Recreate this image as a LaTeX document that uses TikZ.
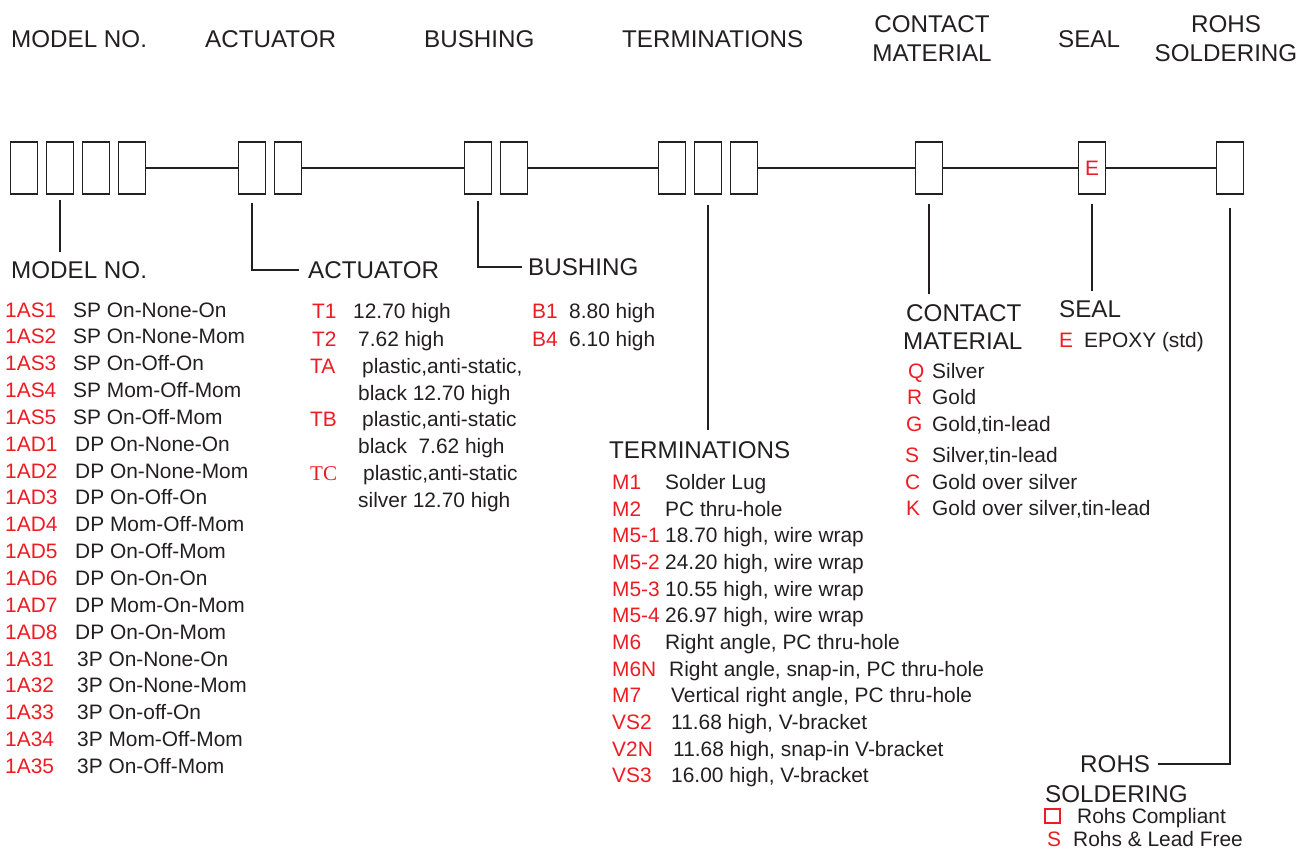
\documentclass[tikz,border=0pt]{standalone}
\usepackage{fontspec}
\setmainfont{Liberation Sans}
\newfontfamily\tcfont{Liberation Serif}
\definecolor{ink}{HTML}{231F20}
\definecolor{codered}{HTML}{ED1C24}
\tikzset{
  cell/.style={draw=ink, line width=1.8pt, minimum width=27pt, minimum height=52pt, inner sep=0pt},
  wire/.style={draw=ink, line width=1.5pt},
  lead/.style={draw=ink, line width=1.6pt},
  hd/.style={anchor=base west, inner sep=0pt, text=ink, font=\fontsize{24.2}{28}\selectfont},
  hdc/.style={hd, anchor=base},
  txt/.style={anchor=base west, inner sep=0pt, text=ink, font=\fontsize{20.9}{24}\selectfont},
  key/.style={txt, text=codered},
}
\begin{document}
\begin{tikzpicture}[x=1pt,y=-1pt]
\useasboundingbox (0,0) rectangle (1309,850);
\pgfmathsetmacro{\by}{168}
\pgfmathsetmacro{\rowh}{26.85}
\pgfmathsetmacro{\trow}{26.65}
% headings
\node[hd] (hmod) at (11,47.5) {MODEL NO.};
\node[hd] (hact) at (205,47.5) {ACTUATOR};
\node[hd] (hbus) at (424,47.5) {BUSHING};
\node[hd] (hterm) at (622,47.5) {TERMINATIONS};
\node[hdc] (hcon1) at (932,32.5) {CONTACT};
\node[hdc] (hcon2) at (932,61.5) {MATERIAL};
\node[hd] (hseal) at (1058,47.5) {SEAL};
\node[hdc] (hrohs1) at (1226,32.5) {ROHS};
\node[hdc] (hrohs2) at (1226,61.5) {SOLDERING};
% code boxes
\foreach \i/\x in {1/24,2/60,3/96,4/132}
  \node[cell] (m\i) at (\x,\by) {};
\foreach \i/\x in {1/252,2/288}
  \node[cell] (a\i) at (\x,\by) {};
\foreach \i/\x in {1/478,2/514}
  \node[cell] (b\i) at (\x,\by) {};
\foreach \i/\x in {1/672,2/708,3/744}
  \node[cell] (t\i) at (\x,\by) {};
\node[cell] (c1) at (929,\by) {};
\node[cell, text=codered, font=\fontsize{20.9}{24}\selectfont] (s1) at (1092,\by) {E};
\node[cell] (r1) at (1230,\by) {};
%
\draw[wire] (m4.east) -- (a1.west);
\draw[wire] (a2.east) -- (b1.west);
\draw[wire] (b2.east) -- (t1.west);
\draw[wire] (t3.east) -- (c1.west);
\draw[wire] (c1.east) -- (s1.west);
\draw[wire] (s1.east) -- (r1.west);
% section labels
\node[hd] (lmod) at (11,278.5) {MODEL NO.};
\node[hd] (lact) at (308,278.5) {ACTUATOR};
\node[hd] (lbus) at (528,275.5) {BUSHING};
\node[hd] (lterm) at (609,458) {TERMINATIONS};
\node[hd] (lcon1) at (906,321) {CONTACT};
\node[hd] (lcon2) at (903,349) {MATERIAL};
\node[hd] (lseal) at (1059,317) {SEAL};
\node[hd] (lrohs1) at (1080,772.5) {ROHS};
\node[hd] (lrohs2) at (1045,802) {SOLDERING};
% leaders
\draw[lead] ([yshift=-5pt]m2.south) -- ([yshift=9pt]m2.south |- lmod.north);
\draw[lead] ([yshift=-8pt]a1.south) |- ([xshift=-9pt]lact.west);
\draw[lead] ([yshift=-6pt]b1.south) |- ([xshift=-6pt]lbus.west);
\draw[lead] ([yshift=-10pt]t2.south) -- ([yshift=11pt]t2.south |- lterm.north);
\draw[lead] ([yshift=-9pt]c1.south) -- ([yshift=10pt]c1.south |- lcon1.north);
\draw[lead] ([yshift=-9pt]s1.south) -- ([yshift=9pt]s1.south |- lseal.north);
\draw[lead] ([yshift=-13pt]r1.south) |- ([xshift=8pt]lrohs1.east);
% model list
\foreach \c/\dx/\d [count=\i from 0] in {
  1AS1/73/SP On-None-On, 1AS2/73/SP On-None-Mom, 1AS3/73/SP On-Off-On,
  1AS4/73/SP Mom-Off-Mom, 1AS5/73/SP On-Off-Mom, 1AD1/75/DP On-None-On,
  1AD2/75/DP On-None-Mom, 1AD3/75/DP On-Off-On, 1AD4/75/DP Mom-Off-Mom,
  1AD5/75/DP On-Off-Mom, 1AD6/75/DP On-On-On, 1AD7/75/DP Mom-On-Mom,
  1AD8/75/DP On-On-Mom, 1A31/77/3P On-None-On, 1A32/77/3P On-None-Mom,
  1A33/77/3P On-off-On, 1A34/77/3P Mom-Off-Mom, 1A35/77/3P On-Off-Mom}
{
  \node[key] (mk\i) at (5,317+\i*\rowh) {\c};
  \node[txt] (md\i) at (\dx,317+\i*\rowh) {\d};
}
% actuator list
\node[key] (ak1) at (312,319) {T1};
\node[txt] (ad1) at (353,319) {12.70 high};
\node[key] (ak2) at (312,346) {T2};
\node[txt] (ad2) at (358,346) {7.62 high};
\node[key] (ak3) at (310,373) {TA};
\node[txt] (ad3) at (362,373) {plastic,anti-static,};
\node[txt] (ad3b) at (358,400) {black 12.70 high};
\node[key] (ak4) at (310,426) {TB};
\node[txt] (ad4) at (362,426) {plastic,anti-static};
\node[txt] (ad4b) at (358,453) {black\ \ 7.62 high};
\node[key, font=\tcfont\fontsize{21}{24}\selectfont] (ak5) at (310,480) {TC};
\node[txt] (ad5) at (363,480) {plastic,anti-static};
\node[txt] (ad5b) at (358,507) {silver 12.70 high};
% bushing list
\node[key] (bk1) at (532,319) {B1};
\node[txt] (bd1) at (569,319) {8.80 high};
\node[key] (bk2) at (532,346) {B4};
\node[txt] (bd2) at (569,346) {6.10 high};
% terminations list
\foreach \c/\dx/\d [count=\i from 0] in {
  M1/665/Solder Lug, M2/665/PC thru-hole, M5-1/665/{18.70 high, wire wrap},
  M5-2/665/{24.20 high, wire wrap}, M5-3/665/{10.55 high, wire wrap},
  M5-4/665/{26.97 high, wire wrap}, M6/665/{Right angle, PC thru-hole},
  M6N/669/{Right angle, snap-in, PC thru-hole},
  M7/671/{Vertical right angle, PC thru-hole}, VS2/671/{11.68 high, V-bracket},
  V2N/673/{11.68 high, snap-in V-bracket}, VS3/671/{16.00 high, V-bracket}}
{
  \node[key] (tk\i) at (612,489.5+\i*\trow) {\c};
  \node[txt] (td\i) at (\dx,489.5+\i*\trow) {\d};
}
% contact list
\foreach \c/\kx/\y/\d [count=\i] in {
  Q/908/378/Silver, R/907/404/Gold, G/906/431.5/{Gold,tin-lead},
  S/905/462/{Silver,tin-lead}, C/905/489/Gold over silver,
  K/906/515.5/{Gold over silver,tin-lead}}
{
  \node[key] (ck\i) at (\kx,\y) {\c};
  \node[txt] (cd\i) at (932,\y) {\d};
}
% seal
\node[key] (sk1) at (1059,347) {E};
\node[txt] (sd1) at (1084,347) {EPOXY (std)};
% rohs
\node[draw=codered, line width=1.4pt, minimum width=15pt, minimum height=14pt, inner sep=0pt] (rk1) at (1052.5,816) {};
\node[txt] (rd1) at (1077,823) {Rohs Compliant};
\node[key] (rk2) at (1047,846.5) {S};
\node[txt] (rd2) at (1073,846.5) {Rohs \& Lead Free};
\end{tikzpicture}
\end{document}
